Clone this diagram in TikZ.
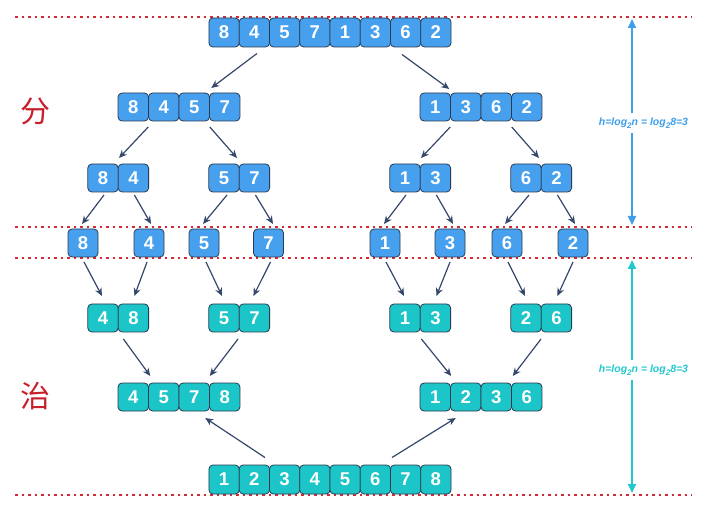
\documentclass[tikz,border=0pt]{standalone}
\usepackage{fontspec}
\setmainfont{Liberation Sans}
\newfontfamily\cjk{Noto Sans CJK SC}
\usetikzlibrary{arrows.meta,calc}
\definecolor{bluebox}{HTML}{47A0EE}
\definecolor{tealbox}{HTML}{1CC5C8}
\definecolor{boxline}{HTML}{2B3A50}
\definecolor{arrcol}{HTML}{35476B}
\definecolor{dashred}{HTML}{D42A35}
\definecolor{sideblue}{HTML}{3D9FEA}
\definecolor{sideteal}{HTML}{22C8D0}
\definecolor{zhred}{HTML}{C8202A}
\newcommand\conn[4]{\draw[arr] ($(#1)+(#2)$) -- ($(#3)+(#4)$);}
\newcommand\lsub[1]{\raisebox{-2.5pt}{\fontsize{8}{8}\selectfont #1}}
\begin{document}
\begin{tikzpicture}[x=1pt,y=-1pt,
  dig/.style={draw=boxline, line width=0.8pt, rounded corners=4pt, minimum width=30.4pt, minimum height=28pt, inner sep=0pt, text=white, font=\fontsize{18.5}{18.5}\selectfont\bfseries},
  bl/.style={dig, fill=bluebox},
  tl/.style={dig, fill=tealbox},
  arr/.style={draw=arrcol, line width=1.2pt, -{Stealth[length=8pt,width=7pt]}},
  sep/.style={draw=dashred, line width=1.3pt, dash pattern=on 2.5pt off 4pt},
  sidearr/.style={line width=2pt, {Triangle[length=9pt,width=8pt]}-{Triangle[length=9pt,width=8pt]}},
  hlab/.style={fill=white, inner xsep=1pt, inner ysep=5pt, font=\fontsize{10.5}{11}\selectfont\bfseries\itshape},
  zh/.style={text=zhred, font=\cjk\fontsize{30}{30}\selectfont}
]
\useasboundingbox (0,0) rectangle (709,518);
% separators
\draw[sep] (15,17) -- (692,17);
\draw[sep] (15,227) -- (692,227);
\draw[sep] (15,258) -- (692,258);
\draw[sep] (15,495) -- (692,495);
% row 1
\foreach \d [count=\i] in {8,4,5,7,1,3,6,2}
  \node[bl, minimum height=29pt] (t\i) at ({224.1+30.25*(\i-1)},32.5) {\d};
% row 2
\foreach \d [count=\i] in {8,4,5,7}
  \node[bl] (a\i) at ({133.25+30.5*(\i-1)},107) {\d};
\foreach \d [count=\i] in {1,3,6,2}
  \node[bl] (b\i) at ({435.25+30.5*(\i-1)},107) {\d};
% row 3
\node[bl] (c1) at (103,178) {8}; \node[bl] (c2) at (133.4,178) {4};
\node[bl] (d1) at (224,178) {5}; \node[bl] (d2) at (254.4,178) {7};
\node[bl] (e1) at (405,178) {1}; \node[bl] (e2) at (435.4,178) {3};
\node[bl] (f1) at (526,178) {6}; \node[bl] (f2) at (556.4,178) {2};
% row 4
\foreach \d/\x [count=\i] in {8/83,4/149,5/204,7/268.5,1/385,3/450,6/507,2/573}
  \node[bl, minimum width=30pt] (g\i) at (\x,243) {\d};
% row 5
\node[tl] (h1) at (103,318) {4}; \node[tl] (h2) at (133.4,318) {8};
\node[tl] (i1) at (224,318) {5}; \node[tl] (i2) at (254.4,318) {7};
\node[tl] (j1) at (405,318) {1}; \node[tl] (j2) at (435.4,318) {3};
\node[tl] (k1) at (526,318) {2}; \node[tl] (k2) at (556.4,318) {6};
% row 6
\foreach \d [count=\i] in {4,5,7,8}
  \node[tl] (m\i) at ({133.25+30.5*(\i-1)},397) {\d};
\foreach \d [count=\i] in {1,2,3,6}
  \node[tl] (n\i) at ({435.25+30.5*(\i-1)},397) {\d};
% row 7
\foreach \d [count=\i] in {1,2,3,4,5,6,7,8}
  \node[tl, minimum height=29pt] (z\i) at ({224.1+30.25*(\i-1)},479.5) {\d};
% arrows: divide
\conn{t2}{2.6,21}{a3}{17,-19}
\conn{t7}{-3.6,22}{b1}{14,-18}
\conn{a1}{15,20}{c1}{16,-20}
\conn{a4}{-15,20}{d1}{13,-20}
\conn{b1}{15,20}{e1}{16,-20}
\conn{b4}{-15,20}{f1}{13,-20}
\conn{c1}{1,17}{g1}{-1,-19}
\conn{c2}{1,17}{g2}{2,-19}
\conn{d1}{3,17}{g3}{-1,-19}
\conn{d2}{1,17}{g4}{4.5,-19}
\conn{e1}{1,17}{g5}{-1,-19}
\conn{e2}{1,17}{g6}{3,-19}
\conn{f1}{3,17}{g7}{-2,-19}
\conn{f2}{1,17}{g8}{2,-19}
% arrows: merge
\conn{g1}{1,19}{h1}{-1,-22}
\conn{g2}{-2,19}{h2}{1,-22}
\conn{g3}{2,19}{i1}{-2,-22}
\conn{g4}{2,19}{i2}{-1,-22}
\conn{g5}{1,19}{j1}{-1,-22}
\conn{g6}{0,19}{j2}{1,-22}
\conn{g7}{1,19}{k1}{-1,-22}
\conn{g8}{0,19}{k2}{1,-22}
\conn{h2}{-10,21}{m1}{17,-21}
\conn{i1}{14,21}{m4}{-15,-21}
\conn{j2}{-14,21}{n1}{16,-21}
\conn{k1}{15,21}{n4}{-14,-21}
\conn{z2}{10.6,-22}{m3}{11,21}
\conn{z7}{-13.6,-22}{n2}{-10,21}
% side measures
\coordinate (sb1) at (632,19);
\coordinate (sb2) at (632,225);
\draw[sidearr, sideblue] (sb1) -- (sb2);
\node[hlab, text=sideblue] (hb) at (643.5,123) {h=log\lsub{2}n = log\lsub{2}8=3};
\coordinate (st1) at (632,260);
\coordinate (st2) at (632,493);
\draw[sidearr, sideteal] (st1) -- (st2);
\node[hlab, text=sideteal] (ht) at (643.5,370) {h=log\lsub{2}n = log\lsub{2}8=3};
% labels
\node[zh] (fen) at (35,111) {分};
\node[zh] (zhi) at (35,396) {治};
\end{tikzpicture}
\end{document}
